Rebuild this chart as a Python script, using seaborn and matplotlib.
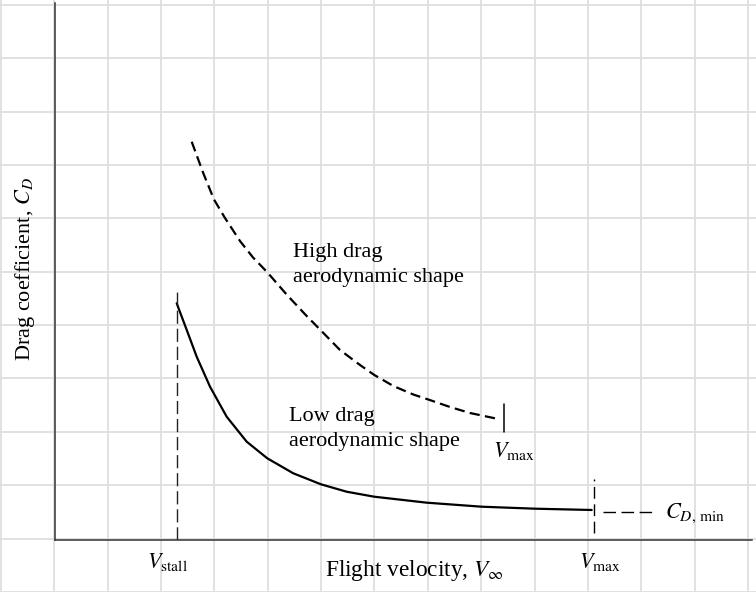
import matplotlib
matplotlib.use("Agg")
import matplotlib.pyplot as plt
import seaborn as sns
import numpy as np

# ---- data (arbitrary units: velocity 0-100, drag coefficient 0-100) ----
low_v = [17.46, 18.90, 20.33, 22.24, 24.63, 27.50, 30.46, 34.19, 38.16, 41.85, 45.81, 53.33, 61.22, 68.87, 77.00]
low_cd = [44.08, 39.11, 34.13, 28.55, 22.96, 18.31, 15.21, 12.42, 10.37, 8.99, 8.06, 6.95, 6.20, 5.83, 5.59]

high_v = [19.61, 21.28, 22.81, 24.39, 26.54, 28.41, 30.42, 33.24, 36.11, 38.16, 40.89, 43.76,
          45.81, 48.54, 51.41, 53.56, 56.67, 59.54, 63.13]
high_cd = [74.17, 68.29, 63.41, 59.96, 55.68, 52.61, 49.91, 45.70, 41.71, 39.01, 35.38, 32.59,
           30.73, 28.68, 27.09, 26.16, 24.77, 23.65, 22.66]

v_stall = 17.46
v_max_low = 77.33
v_max_high = 64.42
cd_min = 5.59

label_high = "High drag\naerodynamic shape"
label_low = "Low drag\naerodynamic shape"
x_label = r"Flight velocity, $V_\infty$"
y_label = r"Drag coefficient, $C_D$"

sns.set_style("white")
plt.rcParams["font.family"] = ["Liberation Serif", "DejaVu Serif"]
plt.rcParams["mathtext.fontset"] = "stix"
plt.rcParams["text.color"] = "black"

W, H = 756, 592
fig = plt.figure(figsize=(W / 100, H / 100), dpi=100)
fig.patch.set_facecolor("white")

# ---- graph-paper background grid covering the whole figure ----
bg = fig.add_axes([0, 0, 1, 1], zorder=0)
bg.set_xlim(0, W)
bg.set_ylim(H, 0)
step = 53.35
bg.set_xticks(np.arange(1, W + 1, step))
bg.set_yticks(np.arange(5, H + 1, step))
bg.grid(True, color="#dedede", linewidth=1.3)
bg.tick_params(length=0, labelbottom=False, labelleft=False)
for s in bg.spines.values():
    s.set_visible(False)
bg.set_facecolor("white")

# ---- main axes ----
ax = fig.add_axes([55 / W, (H - 540) / H, (752 - 55) / W, (540 - 3) / H], zorder=1)
ax.set_facecolor("none")
ax.set_xlim(0, 100)
ax.set_ylim(0, 100)
for side in ["top", "right"]:
    ax.spines[side].set_visible(False)
for side in ["left", "bottom"]:
    ax.spines[side].set_color("#333333")
    ax.spines[side].set_linewidth(1.1)
ax.set_xticks([])
ax.set_yticks([])

# curves
sns.lineplot(x=low_v, y=low_cd, ax=ax, color="black", linewidth=1.6, sort=False)
sns.lineplot(x=high_v, y=high_cd, ax=ax, color="black", linewidth=1.6, sort=False)
ax.lines[-1].set_linestyle((0, (4.6, 2.4)))
ax.lines[-1].set_dash_capstyle("butt")

# V_stall dashed vertical
ax.plot([v_stall, v_stall], [0, 46.2], color="#222222", linewidth=1.0, linestyle=(0, (9.5, 3.5)))
# V_max tick for high drag
ax.plot([v_max_high, v_max_high], [20.1, 25.3], color="black", linewidth=1.1)
# V_max dashed tick for low drag
ax.plot([v_max_low, v_max_low], [1.3, 11.4], color="black", linewidth=1.0, linestyle=(0, (8.5, 4)))
# C_D,min dashed
ax.plot([78.62, 86.37], [cd_min - 0.3, cd_min - 0.3], color="black", linewidth=1.0,
        linestyle=(0, (9, 4)))

fs = 16
ax.text(34.15, 55.3, label_high, ha="left", va="top", fontsize=fs, linespacing=1.45)
ax.text(33.57, 24.7, label_low, ha="left", va="top", fontsize=fs, linespacing=1.4)
ax.text(62.84, 18.6, r"$V_{\rm max}$", ha="left", va="top", fontsize=fs)
ax.text(13.2, -2.0, r"$V_{\rm stall}$", ha="left", va="top", fontsize=fs, clip_on=False)
ax.text(75.2, -2.0, r"$V_{\rm max}$", ha="left", va="top", fontsize=fs, clip_on=False)
ax.text(87.5, 4.9, r"$C_{D,\,\rm min}$", ha="left", va="center", fontsize=fs, clip_on=False)

# axis labels
ax.text((414 - 55) / 697, -0.033, x_label, transform=ax.transAxes, ha="center", va="top",
        fontsize=16.8, clip_on=False)
ax.text((37 - 55) / 697, 0.505, y_label, transform=ax.transAxes, ha="right", va="center",
        rotation=90, fontsize=fs, clip_on=False)

fig.savefig("out.png", dpi=100, facecolor="white")
